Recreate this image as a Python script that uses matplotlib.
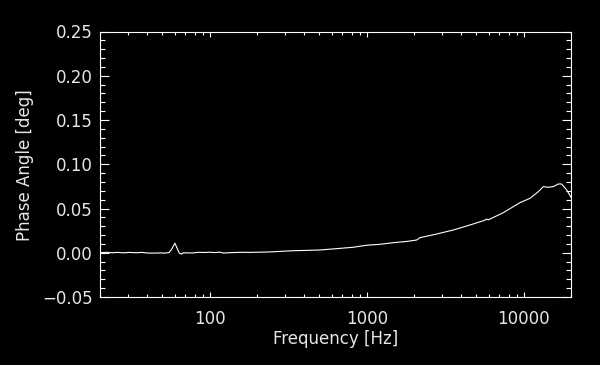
import matplotlib
matplotlib.use('Agg')
import matplotlib.pyplot as plt
from matplotlib.ticker import FixedLocator, FixedFormatter, MultipleLocator, LogLocator, NullFormatter

# phase response
freq_hz = [20, 22, 24, 26, 28, 31, 34, 37, 40, 44, 48, 52, 55, 57, 60, 62, 64, 66,
           68, 72, 78, 85, 92, 100, 108, 116, 122, 140, 160, 180, 200, 230, 260,
           300, 340, 400, 500, 640, 820, 1000, 1210, 1480, 1800, 2080, 2180, 2790,
           3560, 4550, 5600, 5800, 5950, 7410, 9460, 10960, 12380, 13330, 14340,
           15420, 16600, 17430, 18780, 20000]
phase_deg = [0.0000, 0.0005, 0.0000, 0.0004, -0.0001, 0.0004, 0.0000, 0.0004,
             -0.0003, -0.0004, -0.0002, -0.0004, 0.0003, 0.0035, 0.0108, 0.0050,
             -0.0005, -0.0015, 0.0000, -0.0002, -0.0002, 0.0005, 0.0003, 0.0006,
             0.0002, 0.0007, -0.0003, 0.0002, 0.0005, 0.0004, 0.0006, 0.0008,
             0.0012, 0.0018, 0.0023, 0.0026, 0.0031, 0.0046, 0.0062, 0.0085,
             0.0095, 0.0114, 0.0128, 0.0144, 0.0170, 0.0212, 0.0257, 0.0314,
             0.0365, 0.0380, 0.0372, 0.0453, 0.0566, 0.0615, 0.0690, 0.0747,
             0.0740, 0.0747, 0.0777, 0.0777, 0.0709, 0.0627]

xticks = [100, 1000, 10000]
xticklabels = ['100', '1000', '10000']

fg = '#e6e6e6'
fig = plt.figure(figsize=(6, 3.65), dpi=100, facecolor='black')
ax = fig.add_axes([100/600, 1 - 297/365, 471/600, 265.5/365], facecolor='black')

ax.plot(freq_hz, phase_deg, color='white', lw=0.8)

ax.set_xscale('log')
ax.set_xlim(20, 20000)
ax.set_ylim(-0.05, 0.25)

ax.xaxis.set_major_locator(FixedLocator(xticks))
ax.xaxis.set_major_formatter(FixedFormatter(xticklabels))
ax.xaxis.set_minor_locator(LogLocator(base=10, subs=range(2, 10)))
ax.xaxis.set_minor_formatter(NullFormatter())
ax.yaxis.set_major_locator(MultipleLocator(0.05))
ax.yaxis.set_minor_locator(MultipleLocator(0.01))
ax.yaxis.set_major_formatter(plt.FuncFormatter(lambda v, p: ('%.2f' % v).replace('-', '\u2212')))

for s in ax.spines.values():
    s.set_color('white')
    s.set_linewidth(0.8)

ax.tick_params(which='both', direction='in', color='white', labelcolor=fg,
               top=True, right=True, labelsize=12, width=0.8)
ax.tick_params(axis='x', which='major', length=3.8, pad=9)
ax.tick_params(axis='x', which='minor', length=1.9)
ax.tick_params(axis='y', which='major', length=6.8, pad=5)
ax.tick_params(axis='y', which='minor', length=3.4)

fig.text(335.5/600, 1 - 339/365, 'Frequency [Hz]', color=fg, fontsize=12,
         ha='center', va='center')
fig.text(25/600, 1 - 165/365, 'Phase Angle [deg]', color=fg, fontsize=12,
         ha='center', va='center', rotation=90)

fig.savefig('out.png', dpi=100, facecolor='black')
